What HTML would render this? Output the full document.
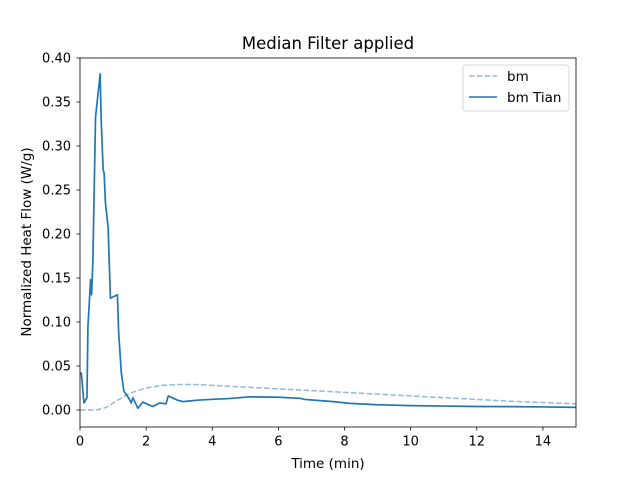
<!DOCTYPE html>
<html><head><meta charset="utf-8"><style>
body{margin:0;background:#fff;}
svg text{font-family:"DejaVu Sans","Liberation Sans",sans-serif;fill:#000;}
</style></head><body>
<svg width="640" height="480" xmlns="http://www.w3.org/2000/svg">
<rect width="640" height="480" fill="#fff"/>
<text x="328" y="49" font-size="16.5" text-anchor="middle">Median Filter applied</text>
<g id="plot"></g>
<rect x="80" y="58" width="496" height="369" fill="none" stroke="#000" stroke-width="0.8"/>
<g id="xt"></g><g id="yt"></g>
<text x="328" y="468" font-size="13.5" text-anchor="middle">Time (min)</text>
<text transform="translate(31,242) rotate(-90)" font-size="13.5" text-anchor="middle">Normalized Heat Flow (W/g)</text>
<g>
<rect x="463" y="65" width="106" height="46" rx="3" fill="#fff" stroke="#ccc" stroke-width="0.8"/>
<line x1="469" y1="76" x2="497" y2="76" stroke="#1f77b4" stroke-opacity="0.5" stroke-width="1.5" stroke-dasharray="5.5,2.4"/>
<text x="507" y="81" font-size="13.5">bm</text>
<line x1="469" y1="97" x2="497" y2="97" stroke="#1f77b4" stroke-width="1.5"/>
<text x="507" y="102" font-size="13.5">bm Tian</text>
</g>
</svg>
<script>
const tianT=[0,0.04,0.12,0.21,0.24,0.32,0.35,0.39,0.47,0.61,0.64,0.70,0.73,0.77,0.85,0.92,1.13,1.17,1.25,1.33,1.45,1.55,1.6,1.75,1.9,2.2,2.41,2.6,2.67,2.96,3.12,3.5,3.93,4.5,5.14,6.0,6.65,6.8,7.66,8.16,9,10,11,12,13,14,15];
const tianV=[0.042,0.042,0.008,0.014,0.095,0.148,0.131,0.17,0.333,0.382,0.33,0.273,0.269,0.235,0.208,0.127,0.131,0.0875,0.042,0.021,0.015,0.008,0.014,0.002,0.009,0.004,0.008,0.007,0.016,0.011,0.0095,0.011,0.012,0.013,0.015,0.0145,0.0133,0.012,0.0095,0.0075,0.006,0.005,0.0045,0.004,0.0038,0.0035,0.003];
const bmT=[0,0.5,0.8,1,1.5,2,2.5,3,3.5,4,5,6,7,8,9,10,11,12,13,14,15];
const bmV=[0,0,0.003,0.008,0.019,0.025,0.028,0.029,0.029,0.028,0.026,0.024,0.022,0.020,0.018,0.016,0.014,0.012,0.010,0.0085,0.007];
const xTicks=[0,2,4,6,8,10,12,14];
const yTicks=[0,0.05,0.10,0.15,0.20,0.25,0.30,0.35,0.40];
const X=t=>80+t*496/15, Y=v=>410-v*880;
const NS="http://www.w3.org/2000/svg";
function mk(tag,attrs,parent){const e=document.createElementNS(NS,tag);for(const k in attrs)e.setAttribute(k,attrs[k]);parent.appendChild(e);return e;}
const plot=document.getElementById('plot');
const p1=mk('path',{d:bmT.map((t,i)=>(i?'L':'M')+X(t)+','+Y(bmV[i])).join(''),fill:'none',stroke:'#1f77b4','stroke-opacity':0.5,'stroke-width':1.5,'stroke-dasharray':'5.5,2.4'},plot);


const p2=mk('path',{d:tianT.map((t,i)=>(i?'L':'M')+X(t)+','+Y(tianV[i])).join(''),fill:'none',stroke:'#1f77b4','stroke-width':1.7,'stroke-linejoin':'round'},plot);


const xt=document.getElementById('xt');
xTicks.forEach(v=>{const x=X(v);
const l=mk('line',{x1:x,x2:x,y1:427,y2:430.5,stroke:'#000','stroke-width':0.8},xt);


const t=mk('text',{x:x,y:445.5,'font-size':13,'text-anchor':'middle'},xt);t.textContent=v;

});
const yt=document.getElementById('yt');
yTicks.forEach(v=>{const y=Y(v);
const l=mk('line',{x1:76.5,x2:80,y1:y,y2:y,stroke:'#000','stroke-width':0.8},yt);


const t=mk('text',{x:71,y:y+4.7,'font-size':13,'text-anchor':'end'},yt);t.textContent=v.toFixed(2);

});
</script>
</body></html>
